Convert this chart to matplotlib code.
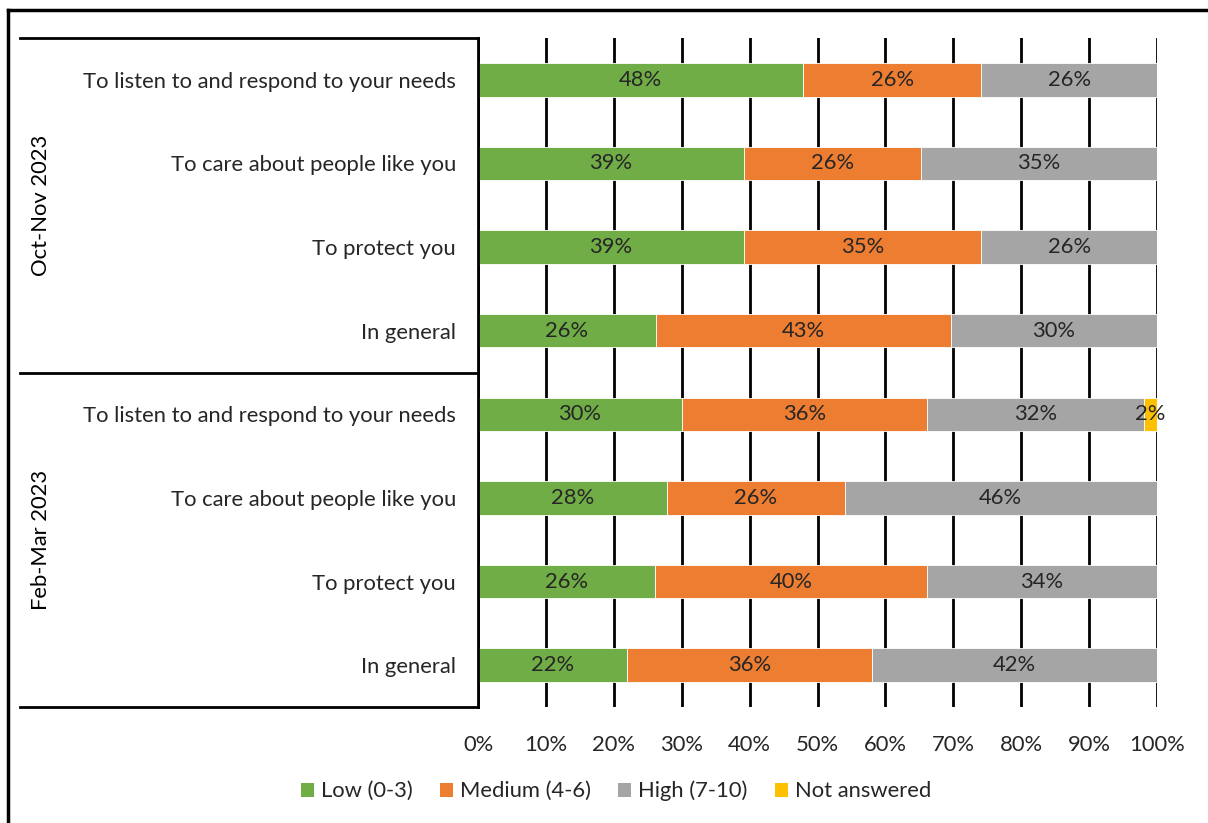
import matplotlib
matplotlib.use("Agg")
import matplotlib.pyplot as plt
from matplotlib.lines import Line2D
from matplotlib.patches import Patch
import matplotlib.transforms as mtransforms

plt.rcParams['font.family'] = ['Lato', 'DejaVu Sans']

groups = ["Oct-Nov 2023", "Feb-Mar 2023"]
items = ["To listen to and respond to your needs", "To care about people like you",
         "To protect you", "In general"]
series_names = ["Low (0-3)", "Medium (4-6)", "High (7-10)", "Not answered"]
colors = ["#70AD47", "#ED7D31", "#A5A5A5", "#FFC000"]

# rows top to bottom: Oct-Nov 2023 (4 items), Feb-Mar 2023 (4 items)
low = [47.9, 39.2, 39.2, 26.2, 30.0, 27.8, 26.1, 21.9]
medium = [26.2, 26.0, 34.9, 43.4, 36.1, 26.2, 40.0, 36.1]
high = [25.9, 34.8, 25.9, 30.4, 32.0, 46.0, 33.9, 42.0]
not_answered = [0, 0, 0, 0, 1.9, 0, 0, 0]
xticks = [0, 10, 20, 30, 40, 50, 60, 70, 80, 90, 100]

FS = 15.8
W, H = 1208, 823
fig = plt.figure(figsize=(W / 100, H / 100), dpi=100)
ax = fig.add_axes([478 / W, 1 - 707 / H, (1157 - 478) / W, (707 - 38) / H])

n = len(low)
ypos = list(range(n))
series = [low, medium, high, not_answered]
lefts = [0.0] * n
for vals, col, name in zip(series, colors, series_names):
    ax.barh(ypos, vals, left=lefts, height=0.4, color=col, edgecolor="white",
            linewidth=0.6, label=name, zorder=3)
    for i, v in enumerate(vals):
        if v > 0:
            ax.text(lefts[i] + v / 2, ypos[i], f"{round(v):d}%", ha="center", va="center",
                    fontsize=FS, color="#262626", zorder=4)
    lefts = [a + b for a, b in zip(lefts, vals)]

ax.set_ylim(n - 0.5, -0.5)
ax.set_xlim(0, 100)
ax.set_xticks(xticks)
ax.set_xticklabels([f"{t}%" for t in xticks], fontsize=FS, color="#262626")
ax.tick_params(axis="x", length=0, pad=20)
ax.set_yticks(ypos)
ax.set_yticklabels(items * 2, fontsize=FS, color="#262626")
ax.tick_params(axis="y", length=0, pad=16)
for s in ["top", "right", "bottom"]:
    ax.spines[s].set_visible(False)
ax.spines["left"].set_linewidth(2)
ax.spines["left"].set_color("black")
ax.spines["left"].set_zorder(5)
ax.xaxis.grid(True, color="black", linewidth=2, zorder=0)
ax.set_axisbelow(True)

# multi-level category table lines
trans = mtransforms.blended_transform_factory(ax.transAxes, ax.transData)
x0 = (20 - 478) / (1157 - 478)
for yb in [-0.5, 3.5, 7.5]:
    ax.add_line(Line2D([x0, 0], [yb, yb], transform=trans, color="black",
                       linewidth=2, clip_on=False))
ax.text((41 - 478) / (1157 - 478), 1.5, groups[0], transform=trans, rotation=90,
        ha="center", va="center", fontsize=FS, color="black")
ax.text((41 - 478) / (1157 - 478), 5.5, groups[1], transform=trans, rotation=90,
        ha="center", va="center", fontsize=FS, color="black")

handles = [Patch(facecolor=c, edgecolor="none") for c in colors]
fig.legend(handles, series_names, loc="center", bbox_to_anchor=(616 / W, 1 - 791 / H),
           ncol=4, frameon=False, fontsize=FS, handlelength=0.6, handleheight=0.6,
           handletextpad=0.3, columnspacing=1.25, labelcolor="#262626")

# outer border (top and left visible)
fig.add_artist(Line2D([8 / W, 8 / W], [0, 1 - 10 / H], transform=fig.transFigure,
                      color="black", linewidth=2.5))
fig.add_artist(Line2D([8 / W, 1], [1 - 10 / H, 1 - 10 / H], transform=fig.transFigure,
                      color="black", linewidth=2.5))

fig.savefig("out.png", dpi=100, facecolor="white")
